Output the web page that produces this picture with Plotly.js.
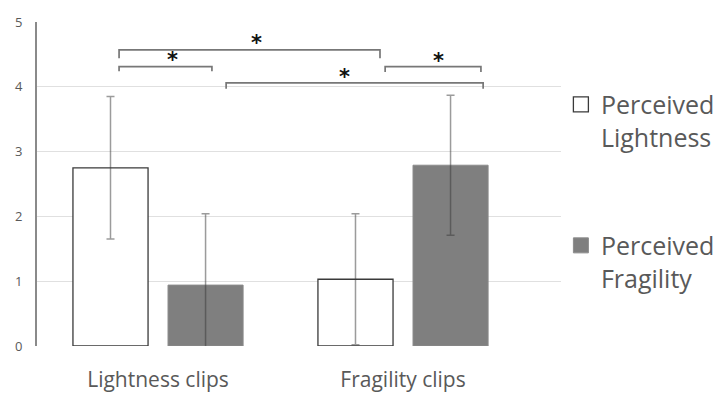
<!DOCTYPE html>
<html>
<head>
<meta charset="utf-8">
<script src="https://cdn.plot.ly/plotly-3.0.1.min.js"></script>
<style>html,body{margin:0;padding:0;background:#fff;}#chart{width:720px;height:393px;}</style>
</head>
<body>
<div id="chart"></div>
<script>
// ---- data ----
const categories = ["Lightness clips", "Fragility clips"];
const categoryPos = [0, 1];
const lightnessValues = [2.75, 1.03];
const lightnessErrors = [1.10, 1.01];
const fragilityValues = [0.94, 2.79];
const fragilityErrors = [1.10, 1.08];
const seriesNames = ["Perceived<br>Lightness", "Perceived<br>Fragility"];
const yTickVals = [0, 1, 2, 3, 4, 5];

// significance brackets: start, end (x in category units), bar level, tick end level
const bracketX0 = [-0.159, -0.159, 0.278, 0.927];
const bracketX1 = [0.220, 0.906, 1.327, 1.318];
const bracketY = [4.31, 4.57, 4.06, 4.31];
const bracketTickY = [4.24, 4.44, 3.97, 4.23];
// asterisk marks
const starX = [0.061, 0.40, 0.763, 1.143];
const starY = [4.46, 4.72, 4.20, 4.44];
const starText = ["*", "*", "*", "*"];

const errColor = "rgba(55,55,55,0.5)";
const lightFill = "#ffffff", lightLine = "#3a3a3a";
const fragFill = "#7f7f7f", fragLine = "#8c8c8c";

const traces = [
  {
    type: "bar", x: categoryPos, y: lightnessValues, name: seriesNames[0], showlegend: false,
    marker: {color: lightFill, line: {color: lightLine, width: 1.3}},
    error_y: {type: "data", array: lightnessErrors, visible: true, color: errColor, thickness: 1.5, width: 4}
  },
  {
    type: "bar", x: categoryPos, y: fragilityValues, name: seriesNames[1], showlegend: false,
    marker: {color: fragFill, line: {color: fragLine, width: 1}},
    error_y: {type: "data", array: fragilityErrors, visible: true, color: errColor, thickness: 1.5, width: 4}
  },
  // legend keys (no data drawn)
  {
    type: "scatter", mode: "markers", x: [null], y: [null], name: seriesNames[0], legendgroup: "a",
    marker: {symbol: "square", size: 15, color: lightFill, line: {color: lightLine, width: 1.3}}
  },
  {
    type: "scatter", mode: "markers", x: [null], y: [null], name: seriesNames[1], legendgroup: "b",
    marker: {symbol: "square", size: 15, color: fragFill, line: {color: fragLine, width: 1}}
  }
];

const shapes = [];
for (let i = 0; i < bracketX0.length; i++) {
  shapes.push({
    type: "path", xref: "x", yref: "y",
    path: "M " + bracketX0[i] + " " + bracketTickY[i] + " L " + bracketX0[i] + " " + bracketY[i] +
          " L " + bracketX1[i] + " " + bracketY[i] + " L " + bracketX1[i] + " " + bracketTickY[i],
    line: {color: "#777777", width: 1.7}
  });
}
const annotations = starX.map((x, i) => ({
  x: x, y: starY[i], xref: "x", yref: "y", text: "<b>" + starText[i] + "</b>", showarrow: false,
  font: {family: "DejaVu Sans", size: 21, color: "#111"}, yshift: -3
}));

const layout = {
  width: 720, height: 393,
  margin: {l: 37, r: 157, t: 22, b: 47, autoexpand: false},
  paper_bgcolor: "#fff", plot_bgcolor: "#fff",
  font: {family: "'Open Sans', sans-serif", color: "#595959"},
  barmode: "group", bargap: 0.224, bargroupgap: 0.21,
  xaxis: {
    range: [-0.494, 1.653], tickvals: categoryPos, ticktext: categories,
    showgrid: false, zeroline: false, showline: false, ticks: "",
    tickfont: {size: 21, color: "#595959"}, ticklabelstandoff: 19, fixedrange: true, automargin: false
  },
  yaxis: {
    range: [0, 5], tickvals: yTickVals, showgrid: true, gridcolor: "#e0e0e0", gridwidth: 1.3,
    zeroline: false, showline: true, linecolor: "#8a8a8a", linewidth: 2, ticks: "",
    tickfont: {size: 13, color: "#595959"}, ticklabelstandoff: 10, automargin: false
  },
  legend: {
    x: 0.996, xanchor: "left", y: 0.816, yanchor: "top",
    font: {size: 25, color: "#595959"}, valign: "top",
    traceorder: "grouped", tracegroupgap: 73, itemwidth: 30
  },
  shapes: shapes,
  annotations: annotations,
  showlegend: true
};

Plotly.newPlot("chart", traces, layout, {displayModeBar: false, staticPlot: true});
</script>
</body>
</html>
